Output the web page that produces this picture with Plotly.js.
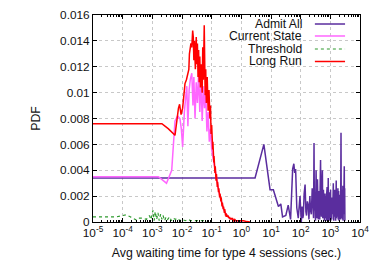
<!DOCTYPE html>
<html>
<head>
<meta charset="utf-8">
<script src="https://cdn.plot.ly/plotly-3.0.1.min.js"></script>
<style>html,body{margin:0;padding:0;background:#fff;}#chart{width:374px;height:262px;}</style>
</head>
<body>
<div id="chart"></div>
<script>
// ---- Data ----
const seriesNames = ["Admit All", "Current State", "Threshold", "Long Run"];

const admitX = [1e-5, 1, 2.9, 5.75, 9.3, 12, 17.8, 21.4, 24.5, 31.6, 38, 45.7, 53.7, 58.9, 63, 67.6, 74, 83, 95,
  105, 112, 118, 123, 131, 141, 150, 158, 168, 180, 190, 204, 215, 229, 245, 263, 272, 282, 290, 300, 315, 331, 342, 355, 368, 380, 393, 407, 425, 440, 455, 468, 485, 500, 520, 540, 555, 570, 585, 603, 615, 630, 645, 660, 675, 690, 705, 720, 735, 750, 765, 780, 798, 815, 832, 851, 865, 880, 895, 912, 930, 950, 975, 1000, 1020, 1035, 1050, 1070, 1110, 1150, 1200, 1260, 1280, 1300, 1325, 1350, 1375, 1400, 1425, 1450, 1480, 1510, 1545, 1580, 1610, 1640, 1670, 1700, 1750, 1800, 1850, 1900, 1925, 1950, 1975, 2000, 2050, 2100, 2150, 2200, 2250, 2290, 2330, 2380, 2420, 2450, 2490, 2520, 2560, 2600, 2650, 2700, 2750, 2800, 2840, 2880, 2920, 2950, 3000, 3050, 3100];
const admitY = [0.0034, 0.0034, 0.0034, 0.0060, 0.0025, 0.0025, 0.0012, 0.0014, 0.0004, 0.0005, 0.0013, 0.0002, 0.0041, 0.0045, 0.0038, 0.0041, 0.0011, 0.0003, 0.0020,
  0.0000, 0.0012, 0.0003, 0.0005, 0.0022, 0.0029, 0.0008, 0.0005, 0.0016, 0.0013, 0.0002, 0.0020, 0.0009, 0.0006, 0.0026, 0.0012, 0.0003, 0.0061, 0.0009, 0.0020, 0.0001, 0.0040, 0.0011, 0.0003, 0.0033, 0.0018, 0.0002, 0.0024, 0.0008, 0.0002, 0.0030, 0.0048, 0.0012, 0.0004, 0.0028, 0.0040, 0.0003, 0.0005, 0.0025, 0.0017, 0.0002, 0.0001, 0.0019, 0.0022, 0.0004, 0.0003, 0.0020, 0.0008, 0.0001, 0.0021, 0.0006, 0.0027, 0.0002, 0.0002, 0.0024, 0.0034, 0.0005, 0.0006, 0.0022, 0.0001, 0.0016, 0.0023, 0.0003, 0.0015, 0.0025, 0.0001, 0.0019, 0.0008, 0.0002, 0.0019, 0.0006, 0.0030, 0.0011, 0.0001, 0.0021, 0.0002, 0.0017, 0.0025, 0.0004, 0.0009, 0.0020, 0.0001, 0.0015, 0.0032, 0.0003, 0.0007, 0.0023, 0.0004, 0.0018, 0.0026, 0.0002, 0.0024, 0.0006, 0.0001, 0.0019, 0.0010, 0.0003, 0.0021, 0.0008, 0.0002, 0.0030, 0.0069, 0.0015, 0.0003, 0.0022, 0.0004, 0.0012, 0.0025, 0.0002, 0.0017, 0.0028, 0.0001, 0.0020, 0.0006, 0.0016, 0.0030, 0.0010, 0.0043, 0.0012, 0.0026, 0.0001];

const currentX = [1e-5, 1e-3, 1.6e-3, 3.0e-3, 4.5e-3, 5.8e-3, 7.1e-3, 8.5e-3, 9.5e-3, 0.0105, 0.012, 0.0138, 0.0145, 0.0158, 0.0174, 0.019, 0.0214, 0.0234, 0.0251, 0.0275, 0.0302, 0.0331, 0.0363, 0.0398, 0.0437, 0.0479, 0.0525, 0.0575, 0.0631, 0.0692, 0.0759, 0.0832, 0.0912, 0.1, 0.11, 0.12, 0.132, 0.145, 0.158, 0.174, 0.19, 0.209, 0.229, 0.251, 0.275, 0.302, 0.33, 0.4, 0.5, 0.63, 0.8, 1.1];
const currentY = [0.0035, 0.0035, 0.0035, 0.0030, 0.0040, 0.0078, 0.0082, 0.0080, 0.0072, 0.0058, 0.0085, 0.0100, 0.0105, 0.0074, 0.0102, 0.0110, 0.0115, 0.0090, 0.0112, 0.0080, 0.0108, 0.0092, 0.0115, 0.0085, 0.0110, 0.0078, 0.0105, 0.0088, 0.0100, 0.0070, 0.0085, 0.0062, 0.0072, 0.0056, 0.0050, 0.0046, 0.0040, 0.0034, 0.0030, 0.0024, 0.0020, 0.0016, 0.0013, 0.0010, 0.0008, 0.0006, 0.0005, 0.0003, 0.0002, 0.0001, 0.0001, 0.0000];

const thresholdX = [1e-5, 6.3e-5, 1.0e-4, 1.3e-4, 1.8e-4, 2.9e-4, 3.5e-4, 5e-4, 6.3e-4, 8e-4, 9e-4, 1.05e-3, 1.15e-3, 1.25e-3, 1.4e-3, 1.55e-3, 1.7e-3, 1.9e-3, 2.1e-3, 2.3e-3, 2.6e-3, 2.9e-3, 3.3e-3, 3.8e-3, 4.4e-3, 5e-3, 6e-3, 7e-3, 8.5e-3, 0.01, 0.013, 0.016, 0.02, 0.03, 0.045, 0.063, 0.08];
const thresholdY = [0.0004, 0.0004, 0.0005, 0.00055, 0.0004, 0.00015, 0.0003, 0.0003, 0.0002, 0.0005, 0.0002, 0.0009, 0.0001, 0.0008, 0.0002, 0.0007, 0.0001, 0.0006, 0.0002, 0.0005, 0.0001, 0.0004, 0.0002, 0.0004, 0.0001, 0.0003, 0.0002, 0.0003, 0.0001, 0.0002, 0.0001, 0.0002, 0.0001, 0.0001, 0.00005, 0.0001, 0.0000];

const longRunX = [1e-5, 1e-4, 1e-3, 2.1e-3, 3.5e-3, 5.8e-3, 7.6e-3, 8.3e-3, 9.3e-3, 0.0105, 0.0118, 0.0126, 0.0141, 0.0158, 0.0170, 0.0178, 0.0200, 0.0214, 0.0229, 0.0240, 0.0251, 0.0263, 0.0282, 0.0302, 0.0316, 0.0331, 0.0347, 0.0363, 0.0380, 0.0398, 0.0417, 0.0447, 0.0479, 0.0501, 0.0525, 0.0562, 0.0603, 0.0631, 0.0661, 0.0708, 0.0759, 0.0813, 0.0871, 0.0912, 0.0955, 0.1, 0.103, 0.105, 0.108, 0.11, 0.113, 0.115, 0.118, 0.12, 0.123, 0.126, 0.129, 0.132, 0.135, 0.138, 0.141, 0.145, 0.148, 0.151, 0.155, 0.158, 0.162, 0.166, 0.17, 0.174, 0.178, 0.182, 0.186, 0.191, 0.195, 0.2, 0.205, 0.209, 0.214, 0.219, 0.224, 0.229, 0.234, 0.24, 0.245, 0.251, 0.257, 0.263, 0.269, 0.275, 0.282, 0.288, 0.295, 0.302, 0.309, 0.316, 0.335, 0.355, 0.376, 0.398, 0.42, 0.45, 0.47, 0.5, 0.55, 0.6, 0.65, 0.7, 0.8, 0.9, 1.0, 1.2, 1.5, 1.95];
const longRunY = [0.0076, 0.0076, 0.0076, 0.0076, 0.0072, 0.0067, 0.0088, 0.0091, 0.0083, 0.0088, 0.0100, 0.0107, 0.0110, 0.0115, 0.0118, 0.0130, 0.0138, 0.0135, 0.0148, 0.0143, 0.0125, 0.0140, 0.0118, 0.0143, 0.0122, 0.0138, 0.0112, 0.0133, 0.0108, 0.0128, 0.0104, 0.0122, 0.0100, 0.0135, 0.0110, 0.0152, 0.0098, 0.0118, 0.0092, 0.0112, 0.0086, 0.0102, 0.0080, 0.0090, 0.0068, 0.0075, 0.0062, 0.0068, 0.0056, 0.0062, 0.0050, 0.0056, 0.0046, 0.0051, 0.0041, 0.0047, 0.0038, 0.0043, 0.0035, 0.0040, 0.0032, 0.0037, 0.0029, 0.0034, 0.0027, 0.0031, 0.0025, 0.0029, 0.0023, 0.0026, 0.0021, 0.0024, 0.0019, 0.0022, 0.0017, 0.0021, 0.0016, 0.0019, 0.0014, 0.0017, 0.0012, 0.0015, 0.0011, 0.0014, 0.0010, 0.0012, 0.0008, 0.0011, 0.0007, 0.0010, 0.0006, 0.0008, 0.0005, 0.0007, 0.0004, 0.0006, 0.0004, 0.0005, 0.0003, 0.0004, 0.0002, 0.0003, 0.0002, 0.0003, 0.0001, 0.0002, 0.0001, 0.0001, 0.0001, 0.00005, 0.00005, 0.0001, 0.00003, 0.0000];

const xTickVals = [1e-5, 1e-4, 1e-3, 1e-2, 1e-1, 1, 10, 100, 1000, 10000];
const xTickText = ["10<sup>-5</sup>", "10<sup>-4</sup>", "10<sup>-3</sup>", "10<sup>-2</sup>", "10<sup>-1</sup>", "10<sup>0</sup>", "10<sup>1</sup>", "10<sup>2</sup>", "10<sup>3</sup>", "10<sup>4</sup>"];
const yTickVals = [0, 0.002, 0.004, 0.006, 0.008, 0.01, 0.012, 0.014, 0.016];
const yTickText = ["0", "0.002", "0.004", "0.006", "0.008", "0.01", "0.012", "0.014", "0.016"];

// ---- Styles ----
const colors = ["#5a2d9e", "#ff66ff", "#2e9a2e", "#ff0000"];
const dashes = ["solid", "solid", "dot", "solid"];
const widths = [1.5, 1.5, 1.2, 1.5];

const traces = [
  {x: admitX, y: admitY},
  {x: currentX, y: currentY},
  {x: thresholdX, y: thresholdY},
  {x: longRunX, y: longRunY}
].map((d, i) => ({
  x: d.x, y: d.y, name: seriesNames[i], type: "scatter", mode: "lines",
  line: {color: colors[i], width: widths[i], dash: dashes[i]},
  showlegend: false, hoverinfo: "skip"
}));

// manual gnuplot-style legend (text right, sample on right)
const legendRows = [0.9565, 0.8986, 0.8357, 0.7754];
const annotations = seriesNames.map((n, i) => ({
  xref: "paper", yref: "paper", x: 0.79, y: legendRows[i],
  xanchor: "right", yanchor: "middle", text: n, showarrow: false,
  font: {size: 12.2, color: "#111"}
}));
const shapes = seriesNames.map((n, i) => ({
  type: "line", xref: "paper", yref: "paper",
  x0: 0.831, x1: 0.944, y0: legendRows[i], y1: legendRows[i],
  line: {color: colors[i], width: widths[i], dash: dashes[i]}
}));

const axisCommon = {
  showline: true, linecolor: "#000", linewidth: 1, mirror: "ticks",
  ticks: "inside", ticklen: 4, tickcolor: "#000",
  showgrid: true, gridcolor: "#c8c8c8", griddash: "dot", gridwidth: 1,
  zeroline: false, tickfont: {size: 11.8, color: "#111"}
};

const layout = {
  width: 374, height: 262,
  margin: {l: 93, r: 14, t: 15, b: 40},
  paper_bgcolor: "#fff", plot_bgcolor: "#fff",
  font: {family: "Liberation Sans, Arial, sans-serif", size: 11.8, color: "#111"},
  xaxis: Object.assign({}, axisCommon, {
    type: "log", range: [-5, 4],
    tickmode: "array", tickvals: xTickVals, ticktext: xTickText,
    minor: {tickmode: "linear", dtick: "D1", ticks: "inside", ticklen: 2, tickcolor: "#000", showgrid: false},
    title: {text: "Avg waiting time for type 4 sessions (sec.)", font: {size: 12.3}, standoff: 9}
  }),
  yaxis: Object.assign({}, axisCommon, {
    range: [0, 0.016],
    tickmode: "array", tickvals: yTickVals, ticktext: yTickText,
    title: {text: "PDF", font: {size: 12.3}, standoff: 16}
  }),
  annotations: annotations,
  shapes: shapes,
  showlegend: false
};

Plotly.newPlot("chart", traces, layout, {staticPlot: true, displayModeBar: false});
</script>
</body>
</html>
